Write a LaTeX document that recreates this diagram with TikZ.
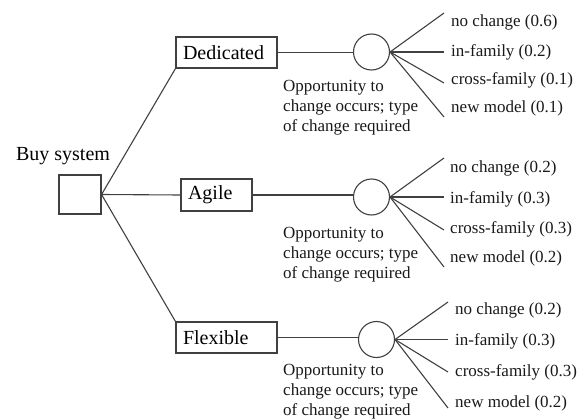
\documentclass[tikz,border=0pt]{standalone}
\usepackage{fontspec}
\setmainfont{Liberation Serif}
\begin{document}
\begin{tikzpicture}[x=1pt,y=-1pt,
  ln/.style={draw=black!75,line width=1.1pt},
  boxnode/.style={draw=black!75,line width=1.1pt,rectangle,align=left,inner sep=0pt,font=\fontsize{20}{22}\selectfont},
  chance/.style={draw=black!75,line width=1.1pt,circle,minimum size=36pt,inner sep=0pt},
  lab/.style={anchor=west,inner sep=0pt,font=\fontsize{17}{20}\selectfont,text=black!90},
  opp/.style={anchor=west,inner sep=0pt,align=left,font=\fontsize{17}{20}\selectfont,text=black!90}]
\useasboundingbox (0,0) rectangle (579,420);
% decision
\node[draw=black!75,line width=1.1pt,minimum width=42pt,minimum height=39pt,inner sep=0pt] (sq) at (80,194.5) {};
\node[inner sep=0pt,font=\fontsize{20}{22}\selectfont] (buy) at (63,156) {Buy system};
% alternatives
\node[boxnode,minimum width=101pt,minimum height=31pt,text width=87pt] (ded) at (226.5,52.5) {Dedicated};
\node[boxnode,minimum width=71pt,minimum height=32pt,text width=57pt] (agi) at (216.5,195) {Agile};
\node[boxnode,minimum width=101pt,minimum height=31pt,text width=87pt] (fle) at (226.5,337.5) {Flexible};
\draw[ln] (sq.east) -- (ded.south west);
\draw[ln] (sq.east) -- (agi.west);
\draw[ln] (sq.east) -- (fle.north west);
% chance nodes
\node[chance] (c1) at (371.5,52) {};
\node[chance] (c2) at (371.5,197) {};
\node[chance] (c3) at (376.5,339.5) {};
\draw[ln] (ded.east) -- (c1.west |- ded.east);
\draw[ln] (agi.east) -- (c2.west |- agi.east);
\draw[ln] (fle.east) -- (c3.west |- fle.east);
% group 1
\coordinate (a1) at (444,13);
\coordinate (a2) at (444,52);
\coordinate (a3) at (444,83);
\coordinate (a4) at (444,117);
\foreach \i in {1,2,3,4} \draw[ln] (c1.east) -- (a\i);
\node[lab] (l11) at (451,22) {no change (0.6)};
\node[lab] (l12) at (451,52) {in-family (0.2)};
\node[lab] (l13) at (451,80) {cross-family (0.1)};
\node[lab] (l14) at (451,108) {new model (0.1)};
\node[opp] (o1) at (283,108) {Opportunity to\\change occurs; type\\of change required};
% group 2
\coordinate (b1) at (444,158);
\coordinate (b2) at (444,197);
\coordinate (b3) at (444,230);
\coordinate (b4) at (444,267);
\foreach \i in {1,2,3,4} \draw[ln] (c2.east) -- (b\i);
\node[lab] (l21) at (450,168) {no change (0.2)};
\node[lab] (l22) at (450,199) {in-family (0.3)};
\node[lab] (l23) at (450,229) {cross-family (0.3)};
\node[lab] (l24) at (450,258) {new model (0.2)};
\node[opp] (o2) at (283,255) {Opportunity to\\change occurs; type\\of change required};
% group 3
\coordinate (d1) at (448,302);
\coordinate (d2) at (448,339.5);
\coordinate (d3) at (448,372);
\coordinate (d4) at (448,408);
\foreach \i in {1,2,3,4} \draw[ln] (c3.east) -- (d\i);
\node[lab] (l31) at (455,310) {no change (0.2)};
\node[lab] (l32) at (455,341) {in-family (0.3)};
\node[lab] (l33) at (455,372) {cross-family (0.3)};
\node[lab] (l34) at (455,403) {new model (0.2)};
\node[opp] (o3) at (283,392) {Opportunity to\\change occurs; type\\of change required};
\end{tikzpicture}
\end{document}
